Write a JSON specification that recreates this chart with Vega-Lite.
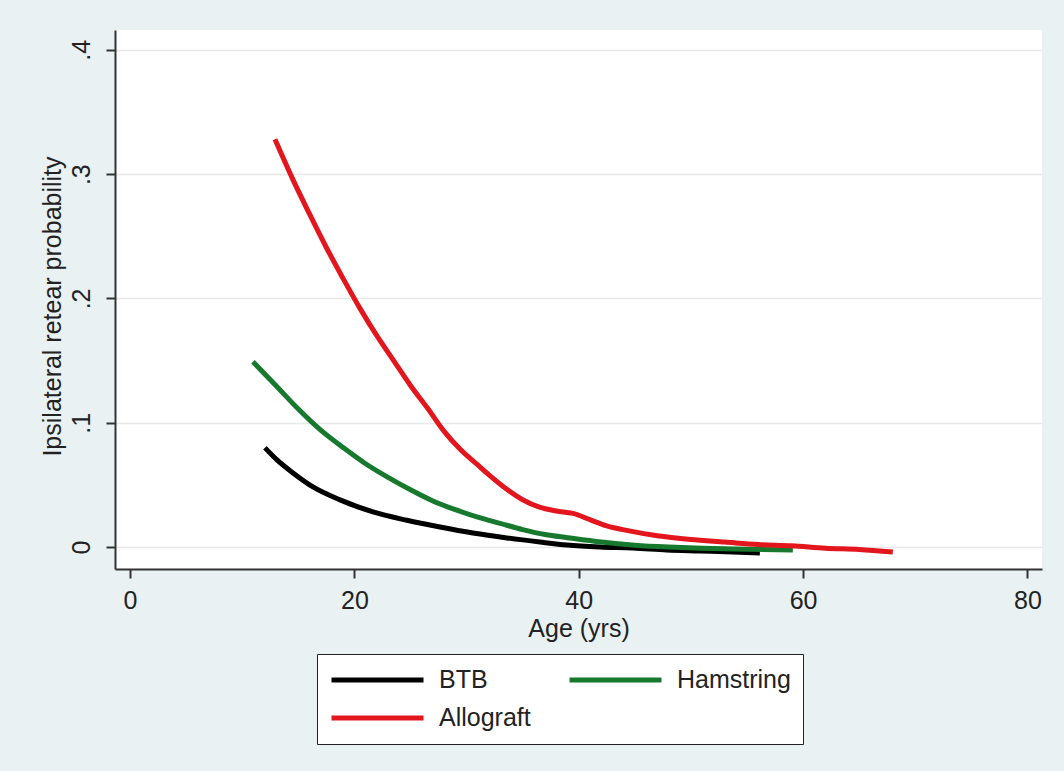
{
  "$schema": "https://vega.github.io/schema/vega-lite/v6.json",
  "width": 927,
  "height": 539,
  "autosize": {"type": "none"},
  "padding": {"left": 115, "top": 30, "right": 22, "bottom": 202},
  "background": "#e9f1f3",
  "config": {
    "font": "Liberation Sans",
    "view": {"fill": "white", "stroke": null},
    "axis": {
      "domainColor": "#333333",
      "domainWidth": 2,
      "tickColor": "#333333",
      "tickWidth": 2,
      "tickSize": 9,
      "labelFont": "Liberation Sans",
      "labelFontSize": 25,
      "labelColor": "#222222",
      "titleFont": "Liberation Sans",
      "titleFontSize": 25,
      "titleFontWeight": "normal",
      "titleColor": "#222222"
    },
    "legend": {
      "labelFont": "Liberation Sans",
      "labelFontSize": 25,
      "labelColor": "#222222"
    }
  },
  "data": {
    "values": [
      {"graft": "BTB", "age": 12.03, "p": 0.0798},
      {"graft": "BTB", "age": 13.10, "p": 0.0701},
      {"graft": "BTB", "age": 14.53, "p": 0.0596},
      {"graft": "BTB", "age": 16.31, "p": 0.0483},
      {"graft": "BTB", "age": 18.72, "p": 0.0379},
      {"graft": "BTB", "age": 21.66, "p": 0.0282},
      {"graft": "BTB", "age": 24.69, "p": 0.0215},
      {"graft": "BTB", "age": 27.63, "p": 0.0161},
      {"graft": "BTB", "age": 30.57, "p": 0.0113},
      {"graft": "BTB", "age": 33.60, "p": 0.0073},
      {"graft": "BTB", "age": 36.54, "p": 0.0040},
      {"graft": "BTB", "age": 38.95, "p": 0.0016},
      {"graft": "BTB", "age": 41.89, "p": 0.0},
      {"graft": "BTB", "age": 44.83, "p": -0.0008},
      {"graft": "BTB", "age": 47.86, "p": -0.0024},
      {"graft": "BTB", "age": 50.80, "p": -0.0032},
      {"graft": "BTB", "age": 53.74, "p": -0.0040},
      {"graft": "BTB", "age": 56.15, "p": -0.0048},
      {"graft": "Hamstring", "age": 10.96, "p": 0.149},
      {"graft": "Hamstring", "age": 13.0, "p": 0.130},
      {"graft": "Hamstring", "age": 15.0, "p": 0.111},
      {"graft": "Hamstring", "age": 17.0, "p": 0.094},
      {"graft": "Hamstring", "age": 19.0, "p": 0.080},
      {"graft": "Hamstring", "age": 21.0, "p": 0.067},
      {"graft": "Hamstring", "age": 23.0, "p": 0.056},
      {"graft": "Hamstring", "age": 25.0, "p": 0.046},
      {"graft": "Hamstring", "age": 27.0, "p": 0.037},
      {"graft": "Hamstring", "age": 29.0, "p": 0.030},
      {"graft": "Hamstring", "age": 31.0, "p": 0.024},
      {"graft": "Hamstring", "age": 33.0, "p": 0.019},
      {"graft": "Hamstring", "age": 35.0, "p": 0.014},
      {"graft": "Hamstring", "age": 37.0, "p": 0.010},
      {"graft": "Hamstring", "age": 39.0, "p": 0.0075},
      {"graft": "Hamstring", "age": 42.0, "p": 0.004},
      {"graft": "Hamstring", "age": 45.0, "p": 0.0015},
      {"graft": "Hamstring", "age": 48.0, "p": 0.0},
      {"graft": "Hamstring", "age": 51.0, "p": -0.001},
      {"graft": "Hamstring", "age": 54.0, "p": -0.0016},
      {"graft": "Hamstring", "age": 59.09, "p": -0.0024},
      {"graft": "Allograft", "age": 12.92, "p": 0.328},
      {"graft": "Allograft", "age": 14.5, "p": 0.296},
      {"graft": "Allograft", "age": 16.0, "p": 0.268},
      {"graft": "Allograft", "age": 17.5, "p": 0.241},
      {"graft": "Allograft", "age": 19.0, "p": 0.216},
      {"graft": "Allograft", "age": 20.5, "p": 0.192},
      {"graft": "Allograft", "age": 22.0, "p": 0.170},
      {"graft": "Allograft", "age": 23.5, "p": 0.150},
      {"graft": "Allograft", "age": 25.0, "p": 0.130},
      {"graft": "Allograft", "age": 26.5, "p": 0.112},
      {"graft": "Allograft", "age": 28.0, "p": 0.093},
      {"graft": "Allograft", "age": 29.5, "p": 0.078},
      {"graft": "Allograft", "age": 31.0, "p": 0.066},
      {"graft": "Allograft", "age": 32.0, "p": 0.058},
      {"graft": "Allograft", "age": 33.5, "p": 0.047},
      {"graft": "Allograft", "age": 35.0, "p": 0.038},
      {"graft": "Allograft", "age": 36.5, "p": 0.032},
      {"graft": "Allograft", "age": 38.0, "p": 0.029},
      {"graft": "Allograft", "age": 39.5, "p": 0.027},
      {"graft": "Allograft", "age": 41.0, "p": 0.022},
      {"graft": "Allograft", "age": 42.5, "p": 0.017},
      {"graft": "Allograft", "age": 44.5, "p": 0.013},
      {"graft": "Allograft", "age": 47.0, "p": 0.009},
      {"graft": "Allograft", "age": 50.0, "p": 0.006},
      {"graft": "Allograft", "age": 53.0, "p": 0.004},
      {"graft": "Allograft", "age": 56.0, "p": 0.002},
      {"graft": "Allograft", "age": 59.0, "p": 0.001},
      {"graft": "Allograft", "age": 62.0, "p": -0.001},
      {"graft": "Allograft", "age": 65.0, "p": -0.002},
      {"graft": "Allograft", "age": 68.0, "p": -0.004}
    ]
  },
  "mark": {"type": "line", "strokeWidth": 5, "interpolate": "monotone"},
  "encoding": {
    "x": {
      "field": "age",
      "type": "quantitative",
      "scale": {"domain": [-1.34, 81.3], "nice": false, "zero": false},
      "axis": {
        "title": "Age (yrs)",
        "values": [0, 20, 40, 60, 80],
        "grid": false,
        "labelBaseline": "alphabetic",
        "labelPadding": 30,
        "titleBaseline": "alphabetic",
        "titleY": 67
      }
    },
    "y": {
      "field": "p",
      "type": "quantitative",
      "scale": {"domain": [-0.0177, 0.416], "nice": false, "zero": false},
      "axis": {
        "title": "Ipsilateral retear probability",
        "values": [0, 0.1, 0.2, 0.3, 0.4],
        "labelExpr": "datum.value == 0 ? '0' : replace(format(datum.value, '.1f'), '0.', '.')",
        "grid": true,
        "gridColor": "#e8e8e8",
        "gridWidth": 1.5,
        "labelAngle": 270,
        "labelAlign": "center",
        "labelBaseline": "alphabetic",
        "labelPadding": 17,
        "titleAngle": 270,
        "titleBaseline": "alphabetic",
        "titleX": -55,
        "titleY": 276
      }
    },
    "color": {
      "field": "graft",
      "type": "nominal",
      "scale": {"domain": ["BTB", "Hamstring", "Allograft"], "range": ["#000000", "#17792d", "#e3161d"]},
      "legend": {
        "title": null,
        "orient": "none",
        "direction": "horizontal",
        "legendX": 202,
        "legendY": 624,
        "columns": 2,
        "symbolType": "stroke",
        "symbolSize": 8464,
        "symbolStrokeWidth": 5,
        "clipHeight": 28,
        "labelOffset": 13,
        "columnPadding": 36,
        "rowPadding": 10,
        "padding": 12,
        "strokeColor": "#222222",
        "fillColor": "white"
      }
    }
  }
}
